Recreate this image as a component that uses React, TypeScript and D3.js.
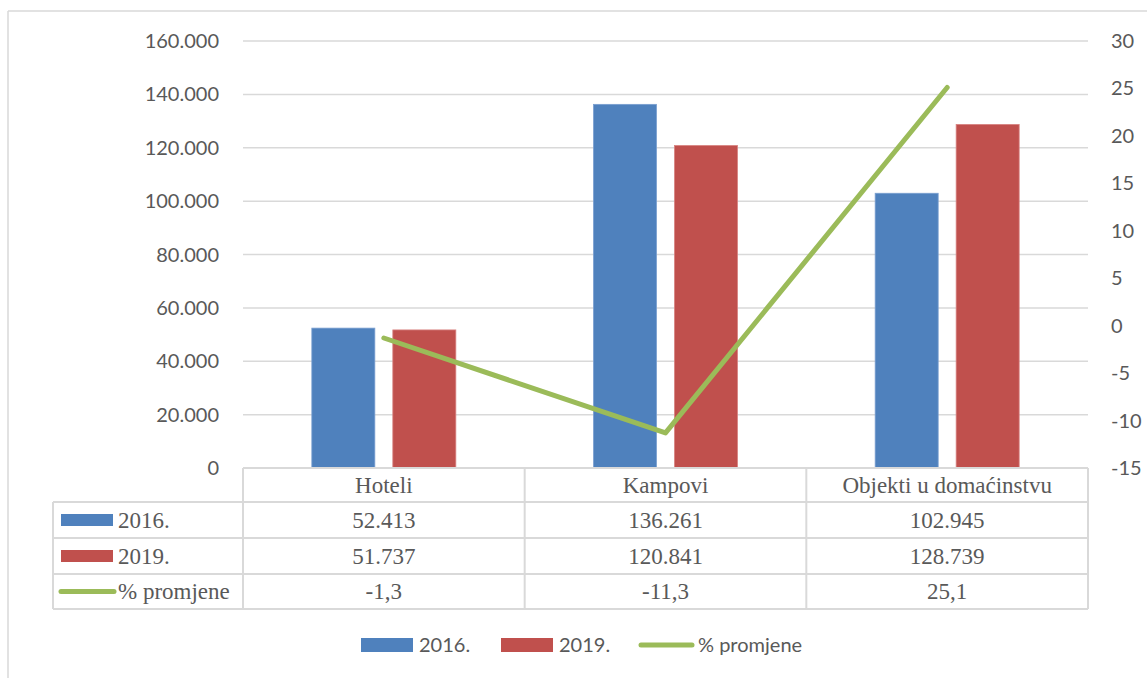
import React from "react";
import * as d3 from "d3";

const categories = ["Hoteli", "Kampovi", "Objekti u domaćinstvu"];
const series2016 = [52413, 136261, 102945];
const series2019 = [51737, 120841, 128739];
const pctChange = [-1.3, -11.3, 25.1];
const leftTicks = [0, 20000, 40000, 60000, 80000, 100000, 120000, 140000, 160000];
const rightTicks = [-15, -10, -5, 0, 5, 10, 15, 20, 25, 30];
const seriesNames = ["2016.", "2019.", "% promjene"];

const BLUE = "#4F81BD";
const RED = "#C0504D";
const GREEN = "#9BBB59";
const GRID = "#D9D9D9";
const TXT = "#595959";
const SANS = "Lato, 'Liberation Sans', sans-serif";
const SERIF = "'Liberation Serif', 'Times New Roman', Tinos, Times, 'Noto Serif', 'DejaVu Serif', serif";

const loc = d3.formatLocale({ decimal: ",", thousands: ".", grouping: [3], currency: ["", ""], minus: "-" });
const fmtInt = loc.format(",d");
const fmtPct = loc.format(".1f");

export default function App() {
  const W = 1147, H = 678;
  const plotL = 243, plotR = 1088, plotT = 41, plotB = 468;
  const x0 = d3.scaleBand<string>().domain(categories).range([plotL, plotR]).padding(0);
  const x1 = d3.scaleBand<string>().domain(["2016.", "2019."]).range([-72, 72]).paddingInner(0.222).paddingOuter(0);
  const yL = d3.scaleLinear().domain([0, 160000]).range([plotB, plotT]);
  const yR = d3.scaleLinear().domain([-15, 30]).range([plotB, plotT]);

  const cx = (c: string) => (x0(c) as number) + x0.bandwidth() / 2;
  const line = d3.line<number>().x((_, i) => cx(categories[i])).y((d) => yR(d));

  const tableL = 53;
  const rowY = [468, 502, 538, 574, 609];
  const rows = [
    { name: "2016.", vals: series2016.map(fmtInt), key: "blue" },
    { name: "2019.", vals: series2019.map(fmtInt), key: "red" },
    { name: "% promjene", vals: pctChange.map(fmtPct), key: "green" },
  ];

  return (
    <svg width={W} height={H} style={{ position: "absolute", left: 0, top: 0, background: "#fff" }}>
      {/* outer frame */}
      <line x1={8} y1={11} x2={W} y2={11} stroke={GRID} strokeWidth={1.5} />
      <line x1={8} y1={11} x2={8} y2={H} stroke={GRID} strokeWidth={1.5} />

      {/* gridlines */}
      {leftTicks.filter((t) => t > 0).map((t) => (
        <line key={t} x1={plotL} x2={plotR} y1={yL(t)} y2={yL(t)} stroke={GRID} strokeWidth={1.5} />
      ))}

      <g fontFamily={SANS} fontSize={20} fill={TXT}>
        {leftTicks.map((t) => (
          <text key={t} x={219} y={yL(t)} dy="0.35em" textAnchor="end">
            {fmtInt(t)}
          </text>
        ))}
        {rightTicks.map((t) => (
          <text key={t} x={1111} y={yR(t)} dy="0.35em" textAnchor="start">
            {String(t)}
          </text>
        ))}
      </g>

      {/* bars */}
      {categories.map((c, i) => (
        <g key={c}>
          <rect x={cx(c) + (x1("2016.") as number)} y={yL(series2016[i])} width={x1.bandwidth()} height={plotB - yL(series2016[i])} fill={BLUE} stroke="#7A9FD0" strokeWidth={0.8} />
          <rect x={cx(c) + (x1("2019.") as number)} y={yL(series2019[i])} width={x1.bandwidth()} height={plotB - yL(series2019[i])} fill={RED} stroke="#D88280" strokeWidth={0.8} />
        </g>
      ))}

      {/* line */}
      <path d={line(pctChange) || ""} fill="none" stroke={GREEN} strokeWidth={5} strokeLinecap="round" strokeLinejoin="round" />

      {/* data table */}
      <g stroke={GRID} strokeWidth={2} fill="none">
        <line x1={plotL} x2={plotR} y1={rowY[0]} y2={rowY[0]} />
        {rowY.slice(1).map((y) => (
          <line key={y} x1={tableL} x2={plotR} y1={y} y2={y} />
        ))}
        <line x1={tableL} x2={tableL} y1={rowY[1]} y2={rowY[4]} />
        {categories.map((c) => (
          <line key={c} x1={x0(c) as number} x2={x0(c) as number} y1={rowY[0]} y2={rowY[4]} />
        ))}
        <line x1={plotR} x2={plotR} y1={rowY[0]} y2={rowY[4]} />
      </g>
      <g fontFamily={SERIF} fontSize={23} fill={TXT}>
        {categories.map((c) => (
          <text key={c} x={cx(c)} y={(rowY[0] + rowY[1]) / 2} dy="0.33em" textAnchor="middle">
            {c}
          </text>
        ))}
        {rows.map((r, ri) => {
          const yc = (rowY[ri + 1] + rowY[ri + 2]) / 2;
          return (
            <g key={r.name}>
              {r.key === "green" ? (
                <line x1={61} x2={114} y1={yc} y2={yc} stroke={GREEN} strokeWidth={5} strokeLinecap="round" />
              ) : (
                <rect x={61} y={yc - 6} width={52} height={12} fill={r.key === "blue" ? BLUE : RED} />
              )}
              <text x={118} y={yc} dy="0.33em">
                {r.name}
              </text>
              {r.vals.map((v, i) => (
                <text key={i} x={cx(categories[i])} y={yc} dy="0.33em" textAnchor="middle">
                  {v}
                </text>
              ))}
            </g>
          );
        })}
      </g>

      {/* legend */}
      <g fontFamily={SANS} fontSize={20} fill={TXT}>
        <rect x={361} y={638} width={52} height={14} fill={BLUE} />
        <text x={419} y={645} dy="0.35em">{seriesNames[0]}</text>
        <rect x={501} y={638} width={52} height={14} fill={RED} />
        <text x={559} y={645} dy="0.35em">{seriesNames[1]}</text>
        <line x1={641} x2={692} y1={645} y2={645} stroke={GREEN} strokeWidth={5} strokeLinecap="round" />
        <text x={698} y={645} dy="0.35em">{seriesNames[2]}</text>
      </g>
    </svg>
  );
}
